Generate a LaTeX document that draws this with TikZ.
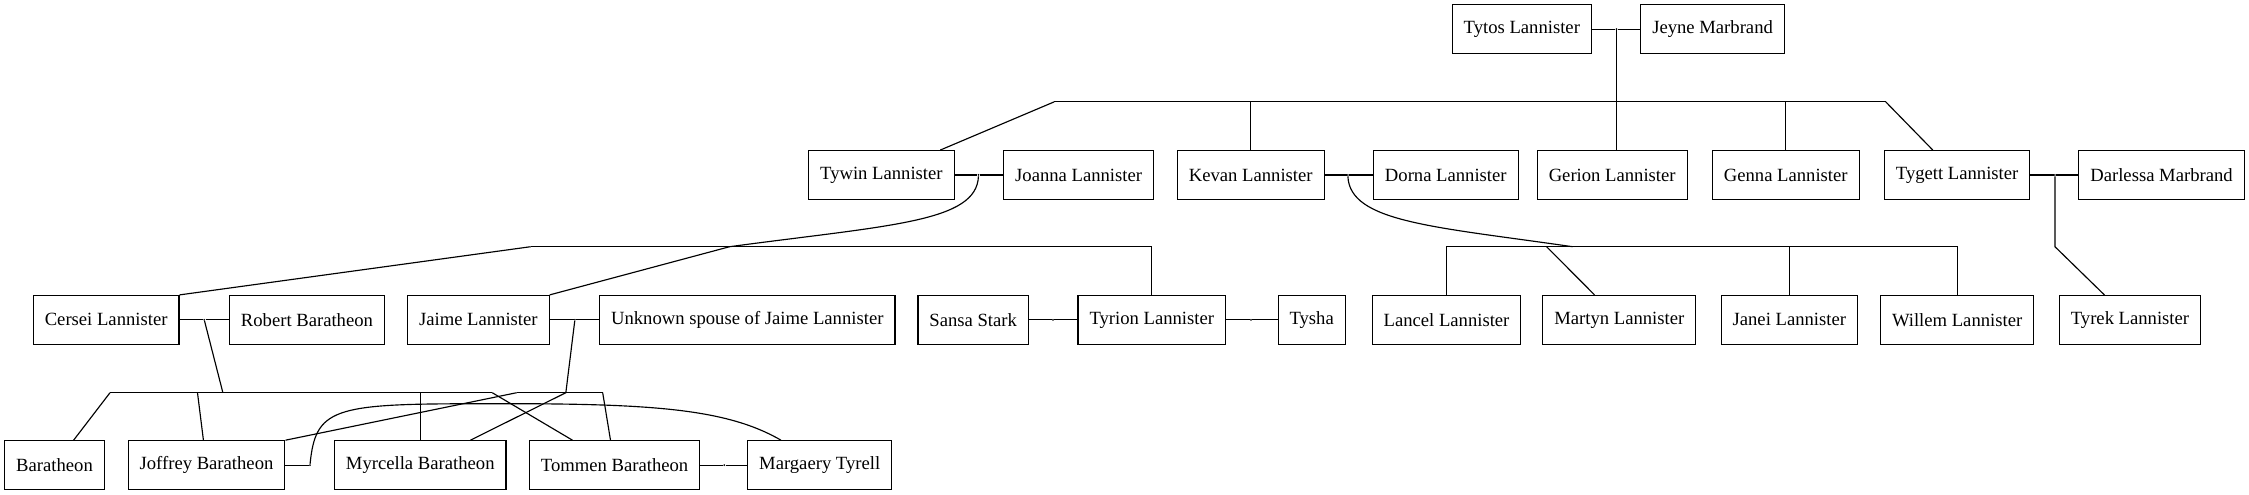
\documentclass[tikz,border=0pt]{standalone}
\usepackage{fontspec}
\setmainfont{Liberation Serif}
\usepackage{tikz}
\pgfdeclarelayer{background}
\pgfdeclarelayer{foreground}
\pgfsetlayers{background,main,foreground}

\begin{document}
\begin{tikzpicture}[x=1pt, y=-1pt,
				namebox/.style={rectangle, draw=black, thick, fill=white, minimum height=34pt, inner xsep=8pt, font=\fontsize{13}{15}\selectfont},
				marriage/.style={circle, fill=black, inner sep=0pt, minimum size=1.4pt},
				]
				\useasboundingbox (0,0) rectangle (1568,345);
				%Nodes
				\node[namebox]      (tytos)     at  (1061,20.3)     {Tytos Lannister};
				\node[namebox]      (jeyne)     at  (1194,20.3)     {Jeyne Marbrand};
				\node[namebox]      (tywin)     at  (614.5,122)     {Tywin Lannister};
				\node[namebox]      (joanna)    at  (752,122)       {Joanna Lannister};
				\node[namebox]      (kevan)     at  (872,122)       {Kevan Lannister};
				\node[namebox]      (dorna)     at  (1008,122)      {Dorna Lannister};
				\node[namebox]      (gerion)    at  (1124,122)      {Gerion Lannister};
				\node[namebox]      (genna)     at  (1245,122)      {Genna Lannister};
				\node[namebox]      (tygett)    at  (1364.5,122)    {Tygett Lannister};
				\node[namebox]      (darlessa)  at  (1507,122)      {Darlessa Marbrand};
				\node[namebox]      (cersei)    at  (74,223)        {Cersei Lannister};
				\node[namebox]      (robert)    at  (214,223)       {Robert Baratheon};
				\node[namebox]      (jaime)     at  (333.5,223)     {Jaime Lannister};
				\node[namebox]      (unknown)   at  (521,223)       {Unknown spouse of Jaime Lannister};
				\node[namebox]      (sansa)     at  (678.5,223)     {Sansa Stark};
				\node[namebox]      (tyrion)    at  (803,223)       {Tyrion Lannister};
				\node[namebox]      (tysha)     at  (914.5,223)     {Tysha};
				\node[namebox]      (lancel)    at  (1008.5,223)    {Lancel Lannister};
				\node[namebox]      (martyn)    at  (1129,223)      {Martyn Lannister};
				\node[namebox]      (janei)     at  (1247.5,223)    {Janei Lannister};
				\node[namebox]      (willem)    at  (1364.5,223)    {Willem Lannister};
				\node[namebox]      (tyrek)     at  (1485,223)      {Tyrek Lannister};
				\node[namebox]      (baratheon) at  (38,324.3)      {Baratheon};
				\node[namebox]      (joffrey)   at  (144,324.3)     {Joffrey Baratheon};
				\node[namebox]      (myrcella)  at  (293,324.3)     {Myrcella Baratheon};
				\node[namebox]      (tommen)    at  (428.5,324.3)   {Tommen Baratheon};
				\node[namebox]      (margaery)  at  (571.5,324.3)   {Margaery Tyrell};
				
				%Marriages
				\node[marriage]     (m0)        at  (1127,20.3)     {};
				\node[marriage]     (m1)        at  (682.2,122)     {};
				\node[marriage]     (m2)        at  (939.7,122)     {};
				\node[marriage]     (m3)        at  (1432.7,122)    {};
				\node[marriage]     (m4)        at  (142.4,223)     {};
				\node[marriage]     (m5)        at  (400.8,223)     {};
				\node[marriage]     (m6)        at  (734.2,223)     {};
				\node[marriage]     (m7)        at  (872.2,223)     {};
				\node[marriage]     (m8)        at  (216.1,324.3)   {};
				\node[marriage]     (m9)        at  (505,324.3)     {};
				
				%Junctions
				\coordinate (b0)  at (735,71);
				\coordinate (b0e) at (1314.7,71);
				\coordinate (b1)  at (370,172);
				\coordinate (j1)  at (508.7,172);
				\coordinate (j2)  at (1096.3,172);
				\coordinate (k2)  at (1078.3,172);
				\coordinate (k3)  at (1432.7,172);
				\coordinate (b4)  at (76.7,273.8);
				\coordinate (k4)  at (137.7,273.8);
				\coordinate (j4)  at (155.4,273.8);
				\coordinate (b4e) at (343.2,273.8);
				\coordinate (b5)  at (360.2,273.8);
				\coordinate (j5)  at (394.5,273.8);
				\coordinate (b5e) at (420.2,273.8);
				
				\begin{pgfonlayer}{background}
				%Lines
				\draw[thick] (tytos) -- (m0) -- (jeyne);
				\draw[thick] (m0) -- (m0 |- gerion.north);
				\draw[thick] (b0) -- (b0e);
				\draw[thick] (b0) -- (tywin);
				\draw[thick] (kevan.north |- b0) -- (kevan.north);
				\draw[thick] (genna.north |- b0) -- (genna.north);
				\draw[thick] (b0e) -- (tygett);
				
				\draw[thick] (tywin) -- (m1) -- (joanna);
				\draw[thick] (kevan) -- (m2) -- (dorna);
				\draw[thick] (tygett) -- (m3) -- (darlessa);
				
				\draw[thick] (m1) .. controls (681,155) and (620,157) .. (j1);
				\draw[thick] (b1) -- (tyrion.north |- b1) -- (tyrion.north);
				\draw[thick] (b1) -- (cersei.north east);
				\draw[thick] (j1) -- (jaime.north east);
				
				\draw[thick] (m2) .. controls (941,155) and (1000,158) .. (j2);
				\draw[thick] (lancel.north) -- (lancel.north |- j2) -- (willem.north |- j2) -- (willem.north);
				\draw[thick] (janei.north |- j2) -- (janei.north);
				\draw[thick] (k2) -- (martyn);
				\draw[thick] (m3) -- (k3) -- (tyrek);
				
				\draw[thick] (cersei) -- (m4) -- (robert);
				\draw[thick] (jaime) -- (m5) -- (unknown);
				\draw[thick] (sansa) -- (m6) -- (tyrion);
				\draw[thick] (tyrion) -- (m7) -- (tysha);
				
				\draw[thick] (m4) -- (j4);
				\draw[thick] (b4) -- (b4e);
				\draw[thick] (b4) -- (baratheon);
				\draw[thick] (k4) -- (joffrey);
				\draw[thick] (myrcella.north |- j4) -- (myrcella.north);
				\draw[thick] (b4e) -- (tommen);
				
				\draw[thick] (m5) -- (j5) -- (myrcella);
				\draw[thick] (b5) -- (b5e);
				\draw[thick] (b5) -- (joffrey.north east);
				\draw[thick] (b5e) -- (tommen);
				
				\draw[thick] (joffrey) -- (m8);
				\draw[thick] (m8) .. controls (220,285) and (232,281.5) .. (330,281.5)
				                  .. controls (450,281) and (505,284) .. ([xshift=-27pt]margaery.north);
				\draw[thick] (tommen) -- (m9) -- (margaery);
				\end{pgfonlayer}
			\end{tikzpicture}
\end{document}
